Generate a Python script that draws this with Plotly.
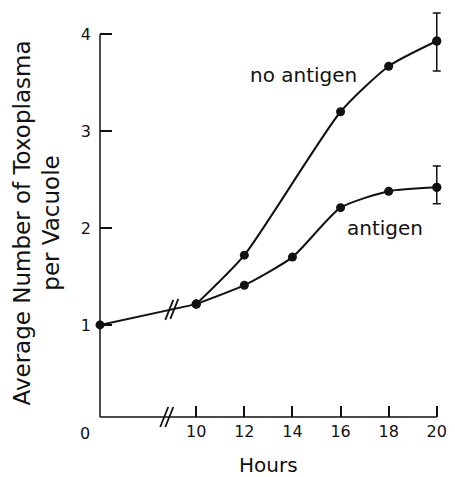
import numpy as np
import plotly.graph_objects as go

# ---- data ----
start_hours = [0, 10]
start_values = [1.0, 1.215]

no_antigen_hours = [10, 12, 16, 18, 20]
no_antigen_values = [1.215, 1.72, 3.20, 3.67, 3.93]
no_antigen_err_plus = 0.29
no_antigen_err_minus = 0.31

antigen_hours = [10, 12, 14, 16, 18, 20]
antigen_values = [1.215, 1.41, 1.70, 2.21, 2.38, 2.42]
antigen_err_plus = 0.22
antigen_err_minus = 0.17

x_tick_hours = [10, 12, 14, 16, 18, 20]
x_tick_labels = ["10", "12", "14", "16", "18", "20"]
y_tick_vals = [1, 2, 3, 4]
y_tick_labels = ["1", "2", "3", "4"]

FONT = "DejaVu Sans"
BLACK = "#111111"
Y_BOTTOM = 0.05
Y_TOP = 4


def pos(h):
    """Broken time axis: the 0-10 h stretch is compressed."""
    return h if h >= 10 else 6 + h * 0.4


def posl(hs):
    return [pos(h) for h in hs]


fig = go.Figure()

# early straight segment (0 -> 10 h), shared by both series
fig.add_trace(go.Scatter(
    x=posl(start_hours), y=start_values, mode="lines+markers",
    line=dict(color=BLACK, width=2), marker=dict(color=BLACK, size=9),
    cliponaxis=False, showlegend=False))

for hrs, vals in [(no_antigen_hours, no_antigen_values),
                  (antigen_hours, antigen_values)]:
    fig.add_trace(go.Scatter(
        x=posl(hrs), y=vals, mode="lines+markers",
        line=dict(color=BLACK, width=2, shape="spline", smoothing=0.6),
        marker=dict(color=BLACK, size=9),
        cliponaxis=False, showlegend=False))

# error bars on the final points
for hrs, vals, ep, em in [(no_antigen_hours, no_antigen_values, no_antigen_err_plus, no_antigen_err_minus),
                          (antigen_hours, antigen_values, antigen_err_plus, antigen_err_minus)]:
    fig.add_trace(go.Scatter(
        x=[pos(hrs[-1])], y=[vals[-1]], mode="markers",
        marker=dict(color=BLACK, size=9),
        error_y=dict(type="data", symmetric=False, array=[ep], arrayminus=[em],
                     color=BLACK, thickness=1.5, width=4),
        cliponaxis=False, showlegend=False))

shapes = []
# axis lines (drawn as shapes so they stop at 20 h and at 4)
shapes.append(dict(type="line", xref="x", yref="paper", x0=pos(0), x1=pos(20), y0=0, y1=0,
                   line=dict(color=BLACK, width=1.5)))
shapes.append(dict(type="line", xref="paper", yref="y", x0=0, x1=0, y0=Y_BOTTOM, y1=Y_TOP,
                   line=dict(color=BLACK, width=1.5)))

# break marks ("//") on the curve and on the x axis
line_break_x = [8.88, 9.09]
line_break_y = np.interp(line_break_x, posl(start_hours), start_values)
for bx, by in zip(line_break_x, line_break_y):
    shapes.append(dict(type="line", xref="x", yref="y",
                       xsizemode="pixel", ysizemode="pixel",
                       xanchor=bx, yanchor=float(by), x0=-4, x1=4, y0=-10, y1=10,
                       line=dict(color=BLACK, width=1.8)))
for bx in [8.67, 8.88]:
    shapes.append(dict(type="line", xref="x", yref="paper",
                       xsizemode="pixel", ysizemode="pixel",
                       xanchor=bx, yanchor=0, x0=-4, x1=4, y0=-10, y1=10,
                       line=dict(color=BLACK, width=1.8)))

annotations = [
    dict(x=14.48, y=3.58, xref="x", yref="y", text="no antigen", showarrow=False,
         font=dict(family=FONT, size=20, color=BLACK)),
    dict(x=17.85, y=2.0, xref="x", yref="y", text="antigen", showarrow=False,
         font=dict(family=FONT, size=20, color=BLACK)),
    dict(x=pos(0), y=0, xref="x", yref="paper", xanchor="center", yanchor="middle",
         text="0", showarrow=False,
         xshift=-15, yshift=-16, font=dict(family=FONT, size=16, color=BLACK)),
    dict(x=0, y=0.5, xref="paper", yref="paper", xanchor="center", yanchor="middle",
         text="Average Number of Toxoplasma<br>per Vacuole", textangle=-90,
         showarrow=False, xshift=-64, yshift=-10,
         font=dict(family=FONT, size=23, color=BLACK)),
    dict(x=0.5, y=0, xref="paper", yref="paper", xanchor="center", yanchor="middle",
         text="Hours", showarrow=False, xshift=-4, yshift=-48,
         font=dict(family=FONT, size=20, color=BLACK)),
]

fig.update_layout(
    width=455, height=477,
    margin=dict(l=100, r=8, t=10, b=60),
    paper_bgcolor="white", plot_bgcolor="white",
    shapes=shapes, annotations=annotations,
    xaxis=dict(range=[6, 20.3], tickvals=posl(x_tick_hours), ticktext=x_tick_labels,
               showgrid=False, zeroline=False, showline=False,
               ticks="inside", ticklen=11, tickwidth=1.5, tickcolor=BLACK,
               ticklabelstandoff=3,
               tickfont=dict(family=FONT, size=16, color=BLACK)),
    yaxis=dict(range=[Y_BOTTOM, 4.25], tickvals=y_tick_vals, ticktext=y_tick_labels,
               showgrid=False, zeroline=False, showline=False,
               ticks="inside", ticklen=12, tickwidth=1.5, tickcolor=BLACK,
               ticklabelstandoff=8,
               tickfont=dict(family=FONT, size=16, color=BLACK)),
)

fig.write_html("out.html", config={"displayModeBar": False},
               post_script="document.body.style.margin='0';")
